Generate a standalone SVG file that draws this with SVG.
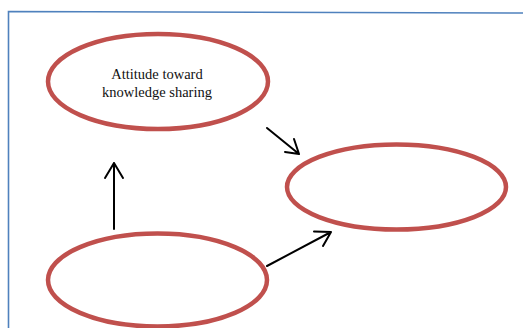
<svg xmlns="http://www.w3.org/2000/svg" width="523" height="328" viewBox="0 0 523 328">
<style>
.node{fill:#fff;stroke:#C0504D;stroke-width:4.5}
.lbl{font-family:"Liberation Serif","Times New Roman",serif;font-size:14.5px;fill:#111;text-anchor:middle}
.conn{fill:none;stroke:#000;stroke-width:2;stroke-linecap:round;stroke-linejoin:round}
.frame{fill:none;stroke:#4F81BD;stroke-width:1.6}
</style>
<rect width="523" height="328" fill="#fff"/>
<polyline class="frame" points="8.5,330 8.5,11.5 525,13"/>
<g id="attitude">
<ellipse class="node" cx="158" cy="81.5" rx="110" ry="47.5"/>
<text class="lbl" x="157" y="79">Attitude toward</text>
<text class="lbl" x="157" y="96.5">knowledge sharing</text>
</g>
<g id="right-node">
<ellipse class="node" cx="396.5" cy="187" rx="109.5" ry="42.5"/>
</g>
<g id="bottom-node">
<ellipse class="node" cx="157.5" cy="280" rx="109.5" ry="46.5"/>
</g>
<g id="connectors">
<path class="conn" d="M114,229 L114,163 M105,178 L114,163 L123,178"/>
<path class="conn" d="M267,128 L299,154 M285,152 L299,154 L294,139"/>
<path class="conn" d="M267,266 L331,232 M314,231.5 L331,232 L323,246"/>
</g>
</svg>
